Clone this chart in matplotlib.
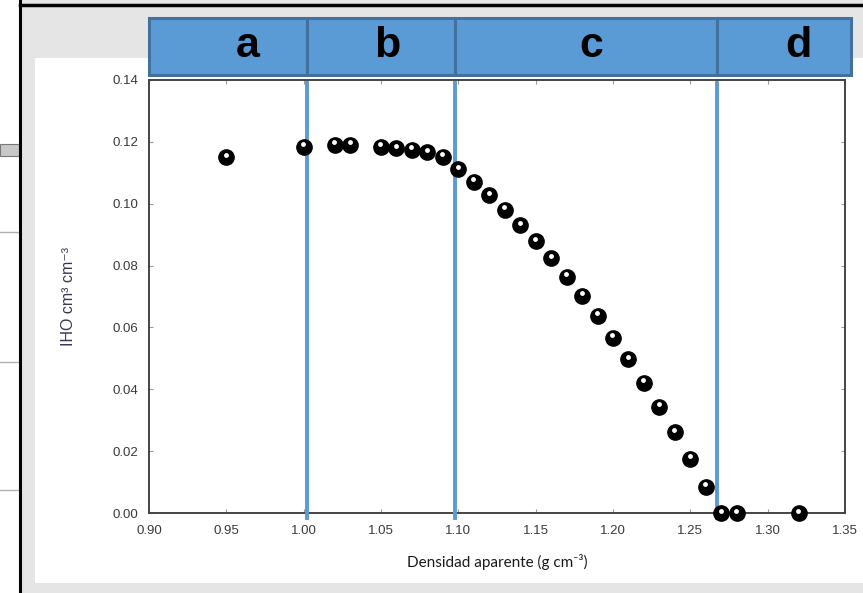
import matplotlib
matplotlib.use('Agg')
import matplotlib.pyplot as plt
import matplotlib.transforms as mtransforms
from matplotlib.patches import Rectangle
from matplotlib.lines import Line2D

# datos
densidad = [0.95, 1.00, 1.02, 1.03, 1.05, 1.06, 1.07, 1.08, 1.09, 1.10,
            1.11, 1.12, 1.13, 1.14, 1.15, 1.16, 1.17, 1.18, 1.19, 1.20,
            1.21, 1.22, 1.23, 1.24, 1.25, 1.26, 1.27, 1.28, 1.32]
iho = [0.1151, 0.1184, 0.1190, 0.1190, 0.1184, 0.1179, 0.1174, 0.1166, 0.1152, 0.1111,
       0.1071, 0.1028, 0.0980, 0.0931, 0.0879, 0.0823, 0.0764, 0.0702, 0.0637, 0.0567,
       0.0497, 0.0421, 0.0344, 0.0261, 0.0175, 0.0085, 0.0, 0.0, 0.0]

limites = [1.002, 1.098, 1.267]          # lineas azules
zonas = ['a', 'b', 'c', 'd']
zona_bordes = [0.90, 1.002, 1.098, 1.267, 1.354]
zona_letra_x = [0.964, 1.054, 1.186, 1.320]

xticks = [0.90, 0.95, 1.00, 1.05, 1.10, 1.15, 1.20, 1.25, 1.30, 1.35]
yticks = [0.00, 0.02, 0.04, 0.06, 0.08, 0.10, 0.12, 0.14]

azul = '#5b9bd5'
azul_borde = '#41719c'

fig = plt.figure(figsize=(8.63, 5.93), dpi=100)
fig.patch.set_facecolor('#e5e5e5')

# fondo tipo captura de pantalla
fig.add_artist(Rectangle((0, 0), 20 / 863, 1, transform=fig.transFigure,
                         facecolor='white', edgecolor='none', zorder=0))
fig.add_artist(Rectangle((35 / 863, 10 / 593), 1, 525 / 593, transform=fig.transFigure,
                         facecolor='white', edgecolor='none', zorder=0))
for yy in [232, 362, 490]:
    fig.add_artist(Line2D([0, 19 / 863], [1 - yy / 593] * 2, transform=fig.transFigure,
                          color='#b0b0b0', lw=1))
fig.add_artist(Rectangle((0, 1 - 156 / 593), 19 / 863, 12 / 593, transform=fig.transFigure,
                         facecolor='#c8c8c8', edgecolor='#777777', lw=0.8))
fig.add_artist(Line2D([20 / 863, 20 / 863], [0, 1], transform=fig.transFigure,
                      color='black', lw=2.2))
fig.add_artist(Line2D([20 / 863, 1], [1 - 5 / 593] * 2, transform=fig.transFigure,
                      color='black', lw=2.5))

ax = fig.add_axes([149 / 863, 1 - 513 / 593, 696 / 863, 433 / 593])
ax.set_xlim(0.90, 1.35)
ax.set_ylim(0.0, 0.14)

# puntos (esferas negras con brillo)
ax.plot(densidad, iho, 'o', color='black', markersize=11, zorder=5, clip_on=False)
brillo = mtransforms.offset_copy(ax.transData, fig=fig, x=-0.4, y=1.8, units='points')
ax.plot(densidad, iho, 'o', color='white', markersize=3.5, markeredgewidth=0,
        transform=brillo, zorder=6, clip_on=False)

for xl in limites:
    ax.axvline(xl, ymin=-0.012, ymax=0.993, color=azul, lw=2.8, zorder=4, clip_on=False)

# cabecera con las zonas
trans = mtransforms.blended_transform_factory(ax.transData, ax.transAxes)
for i, z in enumerate(zonas):
    ax.add_patch(Rectangle((zona_bordes[i], 1.012), zona_bordes[i + 1] - zona_bordes[i], 0.131,
                           transform=trans, facecolor=azul, edgecolor=azul_borde, lw=2.2,
                           clip_on=False, zorder=3))
    ax.text(zona_letra_x[i], 1.078, z, transform=trans, ha='center', va='center',
            fontsize=31, fontweight='bold', color='black',
            family=['Liberation Sans Narrow', 'Liberation Sans', 'DejaVu Sans'])

ax.set_xticks(xticks)
ax.set_xticklabels(['%.2f' % v for v in xticks])
ax.set_yticks(yticks)
ax.set_yticklabels(['%.2f' % v for v in yticks])
ax.tick_params(direction='in', length=3, width=0.8, color='#999999', labelsize=9.5,
               labelcolor='#3a3a3a', top=True, right=True)
ax.tick_params(axis='x', pad=9)
ax.tick_params(axis='y', pad=8)
for lab in ax.get_xticklabels() + ax.get_yticklabels():
    lab.set_family('Liberation Sans')
for sp in ax.spines.values():
    sp.set_color('#444444')
    sp.set_linewidth(1.4)

ax.set_xlabel('Densidad aparente (g cm⁻³)', fontsize=11, family=['Lato', 'DejaVu Sans'],
              color='#1a1a1a', labelpad=12)
ax.set_ylabel('IHO cm³ cm⁻³', fontsize=11.5, family=['Liberation Sans', 'DejaVu Sans'],
              color='#3a3550', labelpad=26)

fig.savefig('out.png', dpi=100, facecolor=fig.get_facecolor())
